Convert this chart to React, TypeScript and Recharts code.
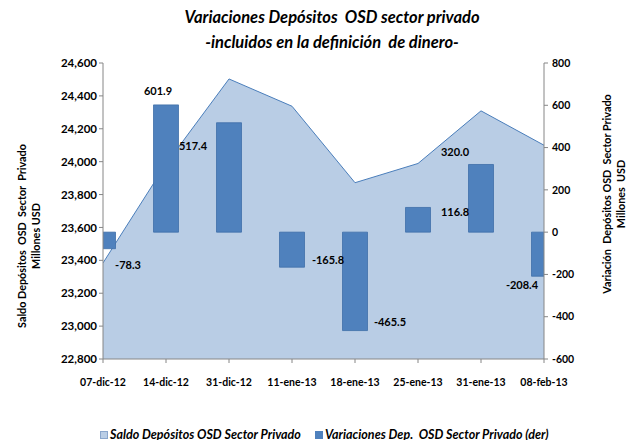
import { ComposedChart, Area, Bar, XAxis, YAxis, LabelList, Label } from 'recharts';

const fechas = ['07-dic-12', '14-dic-12', '31-dic-12', '11-ene-13', '18-ene-13', '25-ene-13', '31-ene-13', '08-feb-13'];
const saldo = [23384, 23986, 24503, 24337, 23872, 23989, 24309, 24100];
const variacion = [-78.3, 601.9, 517.4, -165.8, -465.5, 116.8, 320.0, -208.4];
const saldoTicks = [22800, 23000, 23200, 23400, 23600, 23800, 24000, 24200, 24400, 24600];
const variacionTicks = [-600, -400, -200, 0, 200, 400, 600, 800];

// where each bar's label sits, relative to bar centre / bar end (hand placed in the original)
const labelOffsets = [[25, 16], [-8, -14], [-36, 23], [36, -8], [35, -9], [37, 4], [-26, -13], [-22, 8]];

const data = fechas.map((f, i) => ({ i, fecha: f, saldo: saldo[i], variacion: variacion[i] }));

const FONT = 'Lato, "Open Sans", sans-serif';
const AREA_FILL = '#b9cde5';
const AREA_LINE = '#4a7ebb';
const BAR_FILL = '#4f81bd';
const AXIS = '#868686';

const BarValue = (props: any) => {
    const { index, value } = props;
    const x = props.x ?? props.viewBox?.x;
    const y = props.y ?? props.viewBox?.y;
    const w = props.width ?? props.viewBox?.width;
    const h = props.height ?? props.viewBox?.height;
    const cx = x + w / 2;
    const end = value >= 0 ? Math.min(y, y + h) : Math.max(y, y + h);
    const [dx, dy] = labelOffsets[index] || [0, 0];
    return (
        <text x={cx + dx} y={end + dy} textAnchor="middle" dominantBaseline="central"
            fontFamily={FONT} fontWeight={700} fontSize={11} fill="#000">
            {Number(value).toFixed(1)}
        </text>
    );
};

const AxisTitle = ({ x, y, lines }: { x: number; y: number; lines: string[] }) => (
    <text transform={`translate(${x},${y}) rotate(-90)`} textAnchor="middle"
        fontFamily={FONT} fontWeight={700} fontSize={10.8} fill="#000" style={{ whiteSpace: 'pre' }}>
        {lines.map((l, k) => (
            <tspan key={k} x={0} dy={k === 0 ? 0 : 14}>{l}</tspan>
        ))}
    </text>
);

export default function App() {
    return (
        <div style={{ position: 'relative', width: 635, height: 448, margin: -8, background: '#fff', fontFamily: FONT }}>
            <style>{'body{margin:8px}'}</style>
            <div style={{ position: 'absolute', top: 5, left: 0, width: 664, textAlign: 'center', fontWeight: 700, fontStyle: 'italic', fontSize: 16.5, lineHeight: '25px', whiteSpace: 'pre' }}>
                {'Variaciones Depósitos  OSD sector privado'}
                <br />
                {'-incluidos en la definición  de dinero-'}
            </div>
            <ComposedChart width={635} height={448} data={data} margin={{ top: 63, right: 0, bottom: 59, left: 0 }}>
                <XAxis
                    dataKey="i"
                    type="number"
                    domain={[0, 7]}
                    ticks={[0, 1, 2, 3, 4, 5, 6, 7]}
                    allowDataOverflow
                    tickFormatter={(v) => fechas[v]}
                    height={30}
                    stroke={AXIS}
                    tickSize={4}
                    tickMargin={16}
                    tick={{ fill: '#000', fontSize: 10.5, fontWeight: 700, fontFamily: FONT }}
                />
                <YAxis
                    yAxisId="left"
                    domain={[22800, 24600]}
                    ticks={saldoTicks}
                    allowDataOverflow
                    width={103}
                    stroke={AXIS}
                    tickSize={4}
                    tickMargin={2}
                    tickFormatter={(v) => v.toLocaleString('en-US')}
                    tick={{ fill: '#000', fontSize: 11.5, fontWeight: 700, fontFamily: FONT }}
                >
                    <Label content={() => <AxisTitle x={26} y={236} lines={['Saldo Depósitos  OSD  Sector  Privado', 'Millones USD']} />} />
                </YAxis>
                <YAxis
                    yAxisId="right"
                    orientation="right"
                    domain={[-600, 800]}
                    ticks={variacionTicks}
                    width={91}
                    stroke={AXIS}
                    tickSize={4}
                    tickMargin={4}
                    tick={{ fill: '#000', fontSize: 10.5, fontWeight: 700, fontFamily: FONT }}
                >
                    <Label content={() => <AxisTitle x={611} y={194} lines={['Variación  Depósitos OSD  Sector Privado', 'Millones  USD']} />} />
                </YAxis>
                <Area
                    yAxisId="left"
                    type="linear"
                    dataKey="saldo"
                    stroke={AREA_LINE}
                    strokeWidth={1}
                    fill={AREA_FILL}
                    fillOpacity={1}
                    isAnimationActive={false}
                />
                <Bar
                    yAxisId="right"
                    dataKey="variacion"
                    barSize={25}
                    fill={BAR_FILL}
                    stroke="#3f6fa8"
                    strokeWidth={0.8}
                    isAnimationActive={false}
                >
                    <LabelList dataKey="variacion" content={BarValue} />
                </Bar>
            </ComposedChart>
            <div style={{ position: 'absolute', top: 427, left: 100, display: 'flex', alignItems: 'center', fontWeight: 700, fontStyle: 'italic', fontSize: 12.5, whiteSpace: 'pre' }}>
                <span style={{ width: 6, height: 6, background: AREA_FILL, border: '1px solid #8aa6cc', marginRight: 2 }} />
                <span>{'Saldo Depósitos OSD Sector Privado'}</span>
                <span style={{ width: 8, height: 8, background: BAR_FILL, marginLeft: 14, marginRight: 2 }} />
                <span>{'Variaciones Dep.  OSD Sector Privado (der)'}</span>
            </div>
        </div>
    );
}
